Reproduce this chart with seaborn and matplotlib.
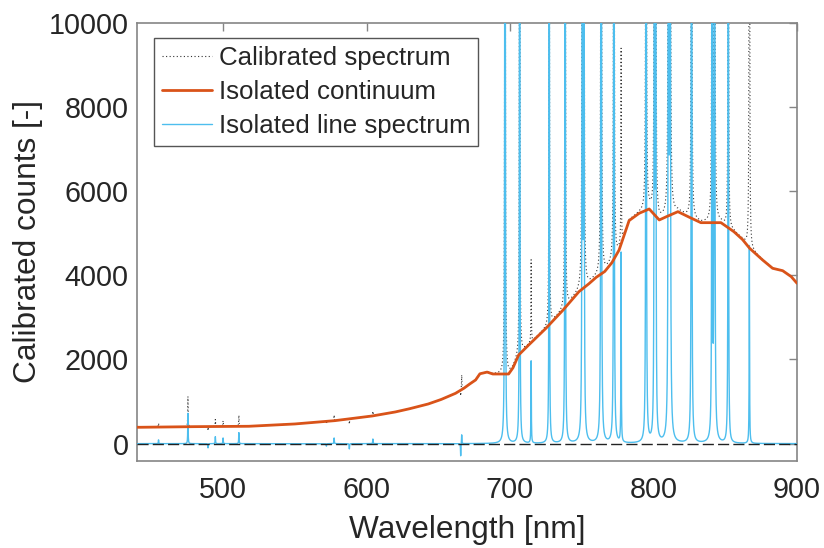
import numpy as np
import pandas as pd
import matplotlib
matplotlib.use("Agg")
import matplotlib.pyplot as plt
import seaborn as sns

# continuum (nm, counts)
cont_wl = [440, 442, 480, 518, 550, 578, 604, 620, 630, 643, 652, 662, 668, 672, 676, 679, 684,
           688, 699, 702, 706, 713, 725, 737, 748, 755, 760, 766, 771, 776, 780, 783, 790, 797,
           804, 809, 817, 825, 833, 847, 856, 862, 867, 876, 883, 890, 896, 900]
cont_val = [390, 389, 404, 413, 468, 547, 658, 753, 830, 943, 1050, 1196, 1320, 1420, 1513, 1660, 1700,
            1655, 1655, 1800, 2107, 2344, 2740, 3176, 3610, 3800, 3950, 4090, 4300, 4600, 5000, 5300, 5473, 5575,
            5314, 5392, 5511, 5378, 5250, 5250, 5036, 4850, 4641, 4364, 4166, 4109, 3967, 3810]

# emission lines: centre (nm), isolated line height, height above continuum in calibrated spectrum
line_wl = [455.0, 475.5, 489.5, 494.6, 500.0, 511.0, 572.0, 577.4, 588.0, 604.4, 665.6, 666.3,
           696.5, 706.7, 714.7, 727.3, 738.4, 750.4, 751.5, 763.5, 772.4, 777.4, 794.8, 800.6,
           801.5, 810.4, 811.5, 826.5, 840.8, 842.5, 852.1, 866.8]
line_iso = [90, 720, -100, 166, 135, 262, -60, 135, -125, 110, -300, 220,
            40000, 25000, 1950, 20000, 30000, 40000, 30000, 50000, 40000, 4500, 40000, 30000,
            30000, 40000, 60000, 40000, 30000, 50000, 25000, 4700]
line_cal = [90, 720, -100, 166, 135, 262, -60, 135, -125, 110, -150, 350,
            40000, 25000, 1950, 20000, 30000, 40000, 30000, 50000, 40000, 4600, 40000, 30000,
            30000, 40000, 60000, 40000, 30000, 50000, 25000, 30000]
gamma = 0.15  # line half width (nm)

wl = np.arange(440, 900.001, 0.05)
cont = np.interp(wl, cont_wl, cont_val)
iso = np.zeros_like(wl)
cal = cont.copy()
for c, hi, hc in zip(line_wl, line_iso, line_cal):
    prof = gamma**2 / ((wl - c)**2 + gamma**2)
    iso += hi * prof
    cal += hc * prof

df = pd.DataFrame({"wl": wl, "cal": cal, "iso": iso})
dfc = pd.DataFrame({"wl": cont_wl, "cont": cont_val})

sns.set_theme(style="white")
plt.rcParams['font.family'] = ['Liberation Sans', 'DejaVu Sans']

fig = plt.figure(figsize=(8.24, 5.48), dpi=100)
ax = fig.add_axes([137/824, 1-460.5/548, 660/824, 437.8/548])

sns.lineplot(data=df, x="wl", y="cal", ax=ax, color="#333333", lw=0.8,
             linestyle=(0, (1, 2.2)), estimator=None, sort=False,
             label="Calibrated spectrum", zorder=2)
sns.lineplot(data=df, x="wl", y="iso", ax=ax, color="#4DBEEE", lw=1.0,
             estimator=None, sort=False, label="Isolated line spectrum", zorder=3)
ax.axhline(0, color="#222222", lw=1.0, dashes=(8, 3), zorder=3.5)
sns.lineplot(data=dfc, x="wl", y="cont", ax=ax, color="#D95319", lw=2.0,
             estimator=None, sort=False, label="Isolated continuum", zorder=4)

ax.set_xlim(440, 900)
ax.set_ylim(-400, 10000)
ax.set_xticks([500, 600, 700, 800, 900])
ax.set_yticks([0, 2000, 4000, 6000, 8000, 10000])
ax.tick_params(direction="in", top=True, right=True, length=6, width=1,
               color="#858585", labelsize=20.7, labelcolor="#262626", pad=6)
ax.tick_params(axis="x", pad=11)
for s in ax.spines.values():
    s.set_color("#858585")
    s.set_linewidth(1.2)
ax.set_xlabel("Wavelength [nm]", fontsize=22.8, color="#262626", labelpad=8)
ax.set_ylabel("Calibrated counts [-]", fontsize=22.8, color="#262626", labelpad=4)

h, l = ax.get_legend_handles_labels()
order = [l.index("Calibrated spectrum"), l.index("Isolated continuum"), l.index("Isolated line spectrum")]
leg = ax.legend([h[i] for i in order], [l[i] for i in order], loc="upper left",
                bbox_to_anchor=(0.0258, 0.965), borderaxespad=0, fontsize=18.6,
                frameon=True, fancybox=False, framealpha=1, edgecolor="#555555",
                borderpad=0.3, handlelength=1.95, handletextpad=0.25, labelspacing=0.4)
leg.get_frame().set_linewidth(1.0)
for t in leg.get_texts():
    t.set_color("#262626")

fig.savefig("out.png", dpi=100)
